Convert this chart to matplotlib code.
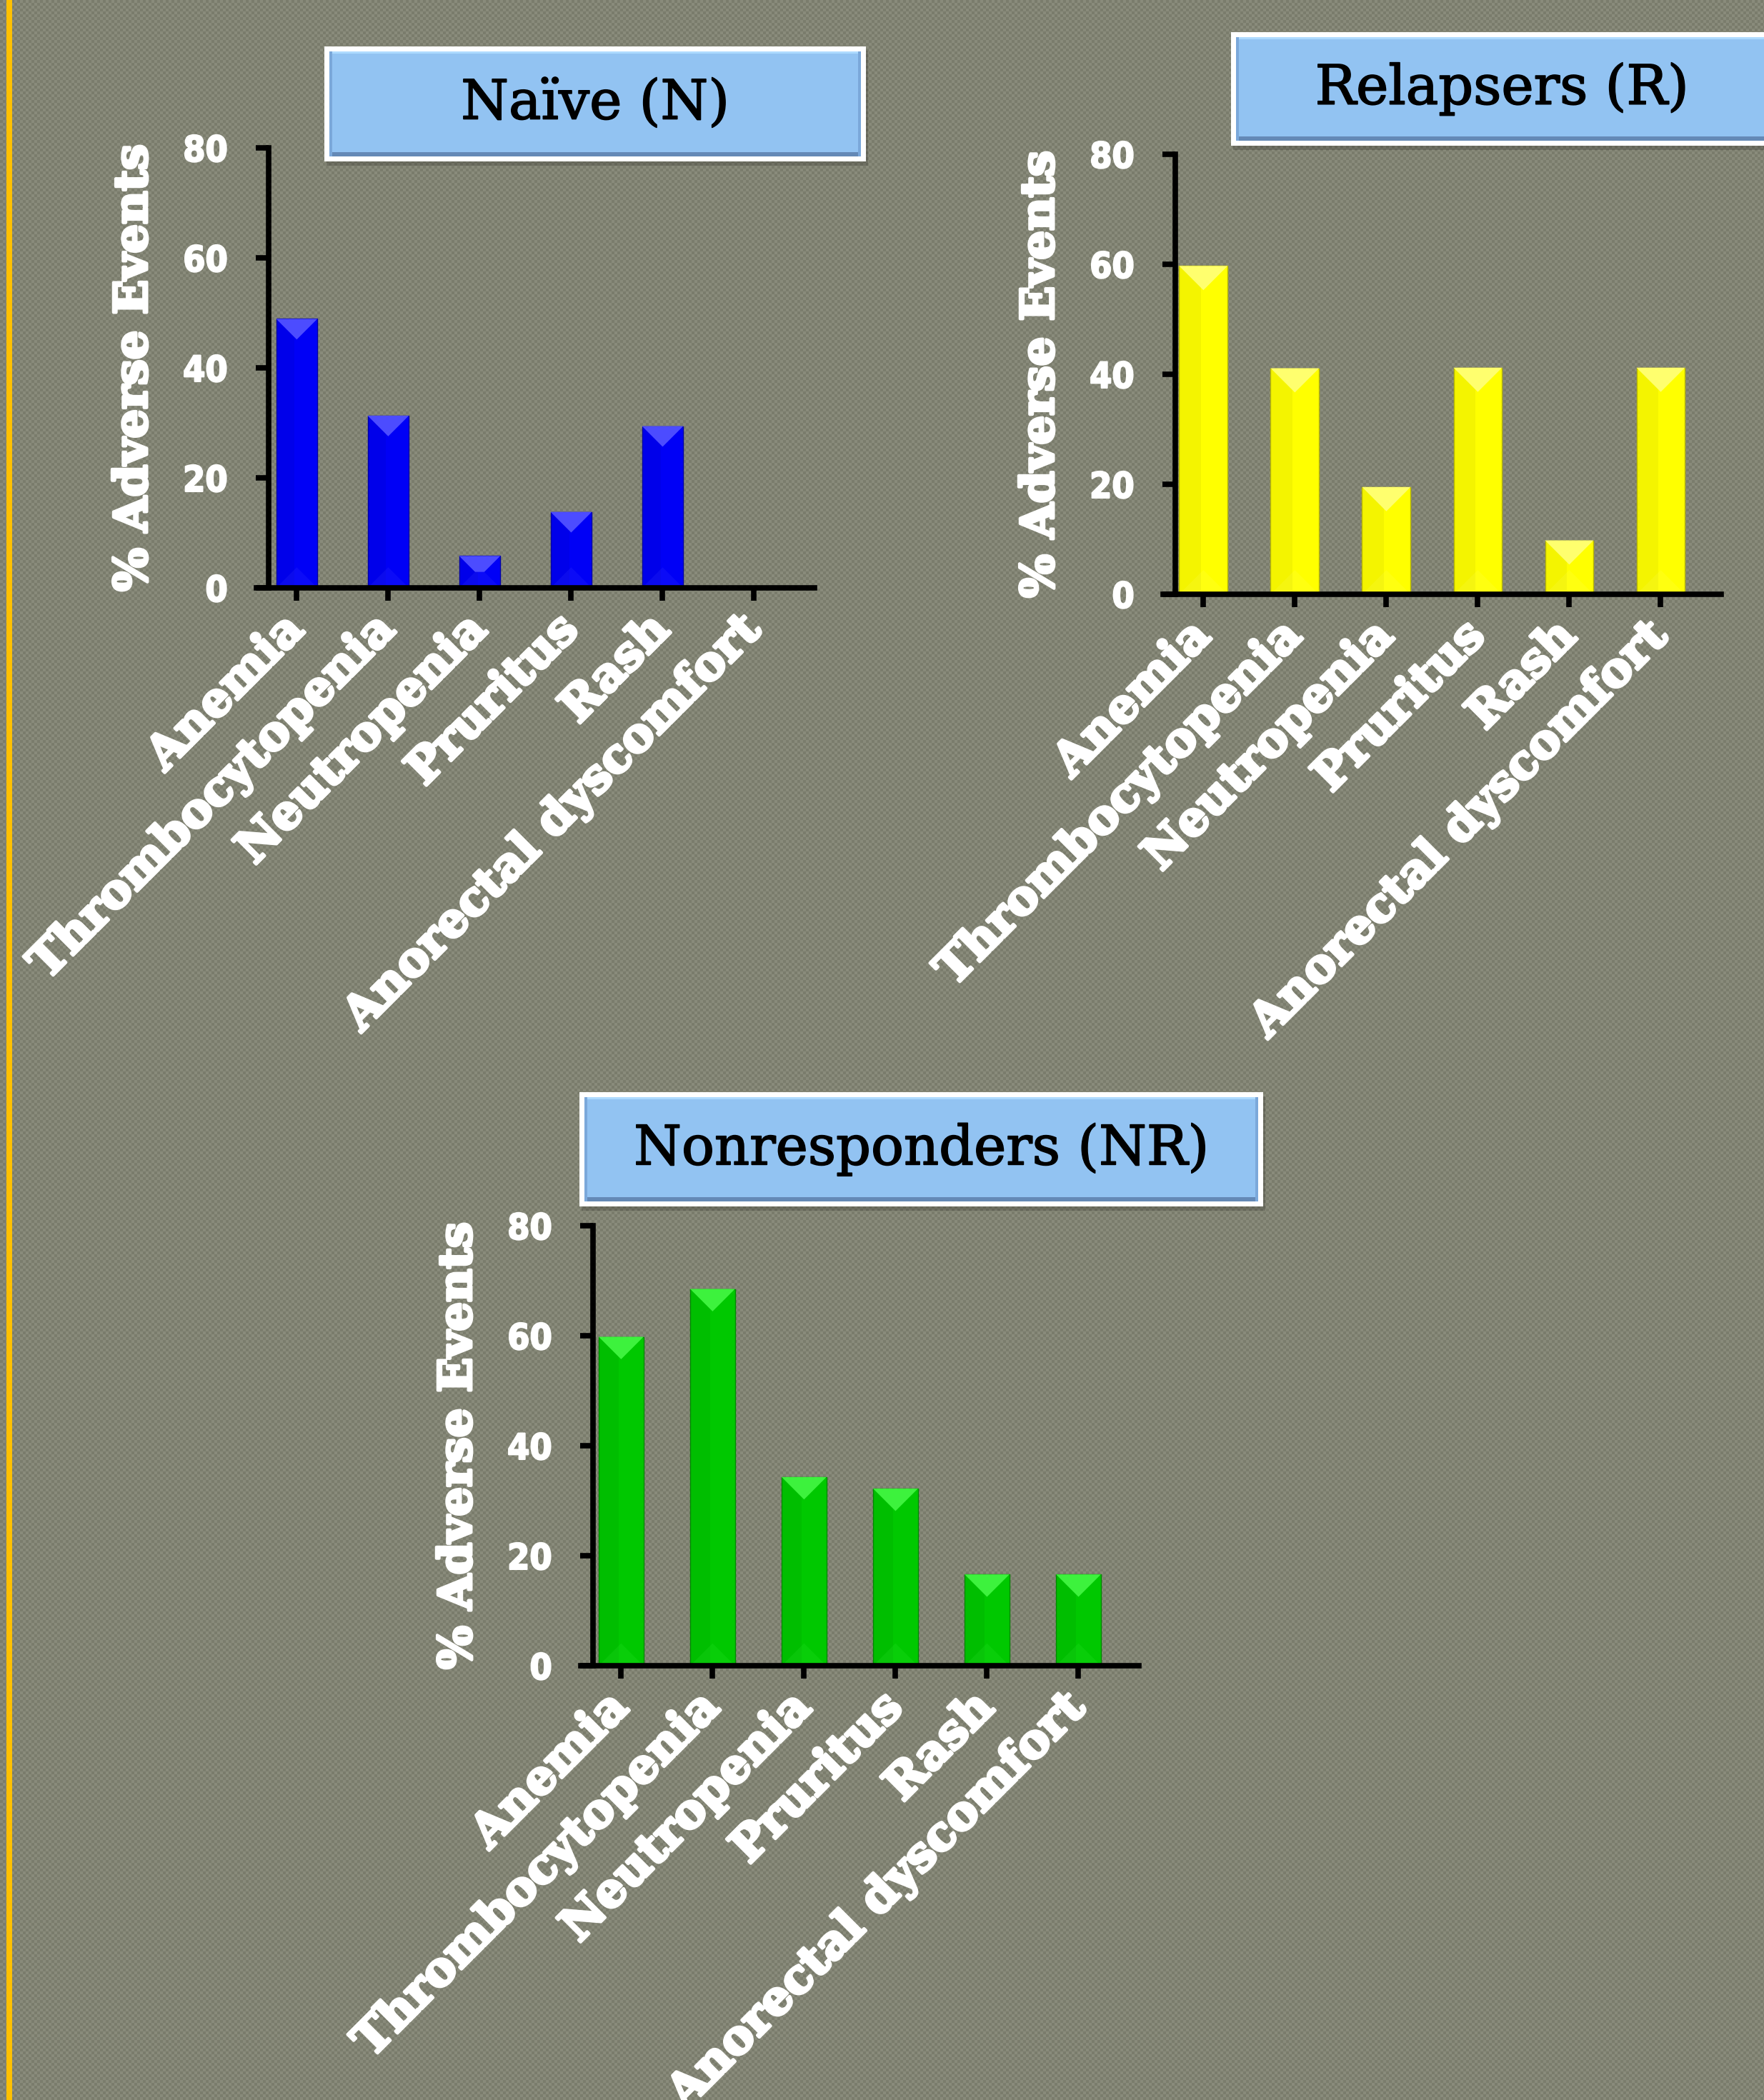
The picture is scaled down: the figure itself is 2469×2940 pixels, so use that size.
import numpy as np
import matplotlib
matplotlib.use("Agg")
import matplotlib.pyplot as plt
import matplotlib.patheffects as pe
from matplotlib.patches import Rectangle, Polygon
from matplotlib.transforms import ScaledTranslation

categories = ["Anemia", "Thrombocytopenia", "Neutropenia", "Pruritus", "Rash",
              "Anorectal dyscomfort"]
naive = [48.9, 31.3, 5.8, 13.8, 29.4, 0]
relapsers = [59.7, 41.1, 19.5, 41.2, 9.8, 41.2]
nonresponders = [59.8, 68.5, 34.3, 32.2, 16.6, 16.6]
yticks = [0, 20, 40, 60, 80]
titles = ["Naïve (N)", "Relapsers (R)", "Nonresponders (NR)"]
ylabel = "% Adverse Events"

W, H = 2469, 2940
DPI = 100
fig = plt.figure(figsize=(W / DPI, H / DPI), dpi=DPI)
fig.patch.set_facecolor("#818372")


def fx(px):
    return px / W


def fy(py):
    return 1 - py / H


# textured slide background
xs = np.arange(W) // 4
ys = np.arange(H) // 4
check = ((ys[:, None] + xs[None, :]) % 2).astype(np.uint8)
palette = np.array([[122, 124, 108], [137, 139, 123]], dtype=np.uint8)
fig.figimage(palette[check], xo=0, yo=0, origin="upper", zorder=-10)

# gold rule down the left edge
fig.add_artist(Rectangle((fx(9), 0), 8 / W, 1, transform=fig.transFigure,
                         fc="#FFC000", ec="none", zorder=1))

heavy = [pe.withStroke(linewidth=3, foreground="white")]


def title_box(x0, y0, x1, y1, text):
    w, h = (x1 - x0) / W, (y1 - y0) / H
    tf = fig.transFigure
    fig.add_artist(Rectangle((fx(x0 + 3), fy(y1 + 6)), w, h, transform=tf,
                             fc="#000000", alpha=0.18, ec="none", zorder=2))
    fig.add_artist(Rectangle((fx(x0), fy(y1)), w, h, transform=tf,
                             fc="white", ec="none", zorder=3))
    b = 7
    ix0, iy0, ix1, iy1 = x0 + b, y0 + b, x1 - b, y1 - b
    iw, ih = (ix1 - ix0) / W, (iy1 - iy0) / H
    fig.add_artist(Rectangle((fx(ix0), fy(iy1)), iw, ih, transform=tf,
                             fc="#92C3F2", ec="none", zorder=4))
    # bevel edges
    fig.add_artist(Rectangle((fx(ix0), fy(iy0 + 3)), iw, 3 / H, transform=tf,
                             fc="#AEDBFF", ec="none", zorder=5))
    fig.add_artist(Rectangle((fx(ix0), fy(iy1)), iw, 6 / H, transform=tf,
                             fc="#6489B6", ec="none", zorder=5))
    fig.add_artist(Rectangle((fx(ix0), fy(iy1)), 4 / W, ih, transform=tf,
                             fc="#7BA8DA", ec="none", zorder=5))
    fig.add_artist(Rectangle((fx(ix1 - 4), fy(iy1)), 4 / W, ih, transform=tf,
                             fc="#7BA8DA", ec="none", zorder=5))
    t = fig.text(fx((x0 + x1) / 2), fy((y0 + y1) / 2), text, ha="center",
                 va="center", fontsize=55, family="DejaVu Serif",
                 color="black", zorder=6)
    t.set_path_effects([pe.withStroke(linewidth=1.2, foreground="black")])


def panel(left, top, values, color, light, dark, width):
    ax = fig.add_axes([fx(left), fy(top + 616), 781 / W, 616 / H])
    ax.patch.set_visible(False)
    ax.set_xlim(-0.44, 5.66)
    ax.set_ylim(0, 80)
    x = np.arange(len(categories))
    bars = ax.bar(x, values, width, color=color, edgecolor=dark,
                  linewidth=1.0, zorder=2)

    p = ax.transData.transform([(0, 0), (1, 1)])
    sx, sy = p[1, 0] - p[0, 0], p[1, 1] - p[0, 1]
    for r in bars:
        x0, w, h = r.get_x(), r.get_width(), r.get_height()
        if h <= 0:
            continue
        ax.add_patch(Rectangle((x0, 0), w * 0.45, h, fc=dark, alpha=0.15,
                               lw=0, zorder=2.1))
        d = (w / 2) * sx / sy
        if d <= h / 2:
            top_pts = [(x0, h), (x0 + w, h), (x0 + w / 2, h - d)]
            bot_pts = [(x0, 0), (x0 + w, 0), (x0 + w / 2, d)]
        else:
            t = h / 2
            k = t * sy / sx
            top_pts = [(x0, h), (x0 + w, h), (x0 + w - k, h - t), (x0 + k, h - t)]
            bot_pts = [(x0, 0), (x0 + w, 0), (x0 + w - k, t), (x0 + k, t)]
        ax.add_patch(Polygon(top_pts, closed=True, fc=light, lw=0, zorder=2.2))
        ax.add_patch(Polygon(bot_pts, closed=True, fc=light, alpha=0.15, lw=0,
                             zorder=2.2))

    for s in ("top", "right"):
        ax.spines[s].set_visible(False)
    ax.spines["left"].set_position(("data", -0.31))
    for s in ("left", "bottom"):
        ax.spines[s].set_linewidth(5.5)
        ax.spines[s].set_color("black")
        ax.spines[s].set_zorder(3)

    ax.set_yticks(yticks)
    ax.set_yticklabels([str(v) for v in yticks], fontsize=36,
                       fontweight="bold", family="DejaVu Sans",
                       fontstretch="condensed", color="white")
    ax.set_xticks(x)
    ax.set_xticklabels(categories, rotation=45, ha="right", va="center",
                       rotation_mode="anchor", fontsize=47.5, fontweight="bold",
                       family="DejaVu Serif", color="white")
    shift = ScaledTranslation(0.2, -0.03, fig.dpi_scale_trans)
    for lab in ax.get_xticklabels():
        lab.set_path_effects(heavy)
        lab.set_transform(lab.get_transform() + shift)
    for lab in ax.get_yticklabels():
        lab.set_path_effects([pe.withStroke(linewidth=1.5, foreground="white")])
    ax.tick_params(axis="y", direction="out", length=13, width=5.5,
                   color="black", pad=28)
    ax.tick_params(axis="x", direction="out", length=13, width=5.5,
                   color="black", pad=22)
    ax.set_ylabel(ylabel, fontsize=46, fontweight="bold", family="DejaVu Serif",
                  color="white", path_effects=heavy)
    ax.yaxis.set_label_coords(-0.18, 0.5)
    return ax


panel(359, 207, naive, "#0000F6", "#4C4CFF", "#0000A8", 0.45)
panel(1628, 216, relapsers, "#FFFF00", "#FFFF6E", "#B8B800", 0.53)
panel(813, 1716, nonresponders, "#00C800", "#3DF23D", "#008A00", 0.49)

title_box(454, 65, 1212, 226, titles[0])
title_box(1723, 45, 2481, 204, titles[1])
title_box(811, 1529, 1768, 1689, titles[2])

fig.savefig("out.png", dpi=DPI)
